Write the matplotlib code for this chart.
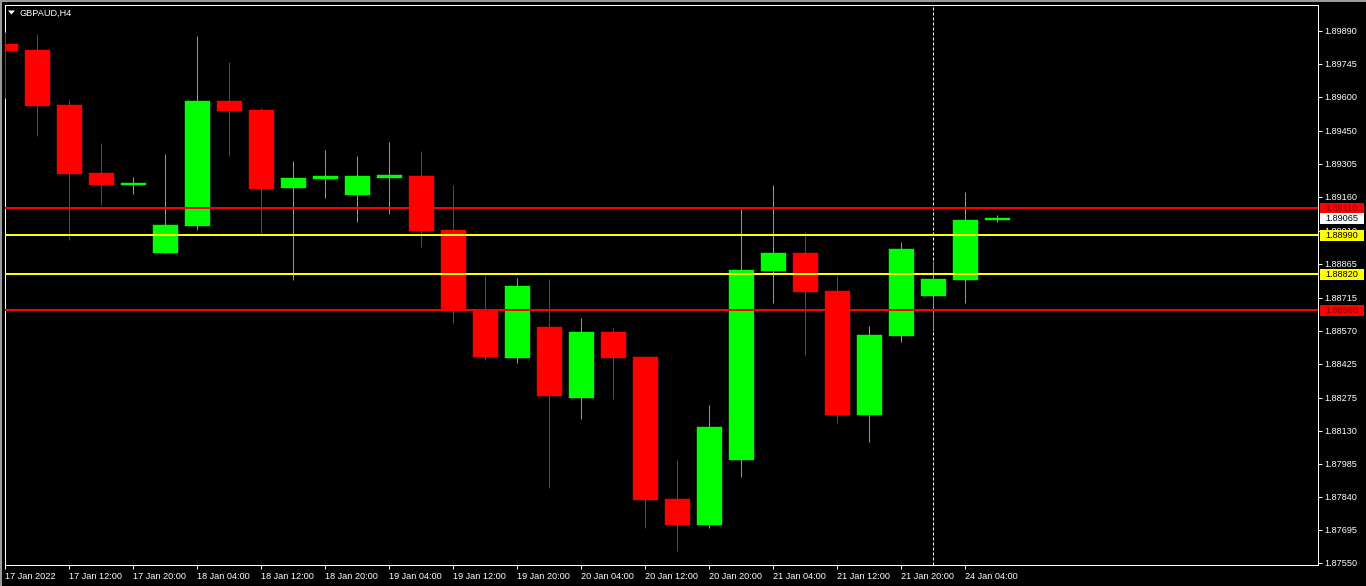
import matplotlib
matplotlib.use("Agg")
import matplotlib.pyplot as plt
from matplotlib.patches import Rectangle, Polygon
from matplotlib.transforms import blended_transform_factory

# ---------------- data ----------------
symbol_title = "GBPAUD,H4"

opens  = [1.89833, 1.89806, 1.89564, 1.89265, 1.89214, 1.88914, 1.89033, 1.89582,
          1.89542, 1.89200, 1.89239, 1.89170, 1.89244, 1.89252, 1.89014, 1.88662,
          1.88452, 1.88587, 1.88276, 1.88565, 1.88455, 1.87830, 1.87717, 1.88003,
          1.88835, 1.88913, 1.88746, 1.88201, 1.88549, 1.88725, 1.88796, 1.89060]
highs  = [1.89886, 1.89877, 1.89586, 1.89397, 1.89247, 1.89349, 1.89868, 1.89754,
          1.89551, 1.89318, 1.89366, 1.89340, 1.89402, 1.89362, 1.89212, 1.88812,
          1.88803, 1.88799, 1.88627, 1.88583, 1.88455, 1.88002, 1.88244, 1.89107,
          1.89212, 1.89005, 1.88812, 1.88592, 1.88961, 1.88878, 1.89181, 1.89080]
lows   = [1.89597, 1.89429, 1.88972, 1.89126, 1.89174, 1.88913, 1.89016, 1.89341,
          1.89002, 1.88796, 1.89156, 1.89051, 1.89086, 1.88941, 1.88606, 1.88443,
          1.88430, 1.87880, 1.88184, 1.88272, 1.87704, 1.87603, 1.87704, 1.87929,
          1.88694, 1.88465, 1.88166, 1.88083, 1.88523, 1.88571, 1.88694, 1.89051]
closes = [1.89802, 1.89561, 1.89262, 1.89214, 1.89221, 1.89036, 1.89582, 1.89539,
          1.89196, 1.89243, 1.89252, 1.89252, 1.89256, 1.89011, 1.88662, 1.88455,
          1.88768, 1.88285, 1.88565, 1.88452, 1.87827, 1.87717, 1.88147, 1.88838,
          1.88913, 1.88743, 1.88201, 1.88552, 1.88931, 1.88799, 1.89058, 1.89065]

x_tick_labels = ["17 Jan 2022", "17 Jan 12:00", "17 Jan 20:00", "18 Jan 04:00",
                 "18 Jan 12:00", "18 Jan 20:00", "19 Jan 04:00", "19 Jan 12:00",
                 "19 Jan 20:00", "20 Jan 04:00", "20 Jan 12:00", "20 Jan 20:00",
                 "21 Jan 04:00", "21 Jan 12:00", "21 Jan 20:00", "24 Jan 04:00"]
x_tick_bars = [0, 2, 4, 6, 8, 10, 12, 14, 16, 18, 20, 22, 24, 26, 28, 30]

y_tick_values = [1.89890, 1.89745, 1.89600, 1.89450, 1.89305, 1.89160, 1.89010,
                 1.88865, 1.88715, 1.88570, 1.88425, 1.88275, 1.88130, 1.87985,
                 1.87840, 1.87695, 1.87550]

red_levels = [1.89110, 1.88660]
yellow_levels = [1.88990, 1.88820]
current_price = 1.89065
week_separator_bar = 29

# ---------------- styling ----------------
W, H = 1366, 586
BG = "#000000"
UP = "#00FF00"
DOWN = "#FF0000"
FONT = ["Liberation Sans", "DejaVu Sans"]
FS = 6.6

plt.rcParams["font.family"] = FONT

fig = plt.figure(figsize=(W / 100, H / 100), dpi=100, facecolor=BG)
ax_l, ax_r, ax_t, ax_b = 5, 1318, 5, 565
ax = fig.add_axes([ax_l / W, 1 - ax_b / H, (ax_r - ax_l) / W, (ax_b - ax_t) / H])
ax.set_facecolor(BG)

y_top, y_bot = 1.900044, 1.875399
ax.set_ylim(y_bot, y_top)
ax.set_xlim(0.0, (ax_r - ax_l) / 32.0)

px = 0.72  # 1 pixel in points
body_w = 25 / 32

for i, (o, h, l, c) in enumerate(zip(opens, highs, lows, closes)):
    col = UP if c >= o else DOWN
    ax.vlines(i, l, h, color=col, linewidth=px, zorder=3)
    bottom = min(o, c)
    height = max(abs(c - o), 0.00004)
    ax.add_patch(Rectangle((i - body_w / 2, bottom), body_w, height,
                           facecolor=col, edgecolor=col, linewidth=0.3, zorder=4))

for lv in red_levels:
    ax.axhline(lv, color="#FF0000", linewidth=2 * px, zorder=5)
for lv in yellow_levels:
    ax.axhline(lv, color="#FFFF00", linewidth=2 * px, zorder=5)

ax.axvline(week_separator_bar, color="white", linewidth=px,
           linestyle=(0, (3, 2)), zorder=2)

# axes frame
for s in ax.spines.values():
    s.set_color("white")
    s.set_linewidth(px)

# y axis on right
ax.yaxis.tick_right()
ax.set_yticks(y_tick_values)
ax.set_yticklabels([f"{v:.5f}" for v in y_tick_values])
ax.tick_params(axis="y", colors="white", length=3, width=px, pad=1.8,
               labelsize=FS, labelcolor="white")
# x axis
ax.set_xticks(x_tick_bars)
ax.set_xticklabels(x_tick_labels)
ax.tick_params(axis="x", colors="white", length=3, width=px, pad=2.0,
               labelsize=FS, labelcolor="white")
for lab in ax.get_xticklabels():
    lab.set_horizontalalignment("left")

# price boxes on the right axis
tr = blended_transform_factory(ax.transAxes, ax.transData)
axw = ax_r - ax_l
unit = (y_top - y_bot) / (ax_b - ax_t)
box_h = 11 * unit
boxes = [(red_levels[0], "#FF0000", "#7a0000"),
         (current_price, "#FFFFFF", "#000000"),
         (yellow_levels[0], "#FFFF00", "#000000"),
         (yellow_levels[1], "#FFFF00", "#000000"),
         (red_levels[1], "#FF0000", "#7a0000")]
for val, fc, tc in boxes:
    ax.add_patch(Rectangle((1 + 2 / axw, val - box_h / 2), 44 / axw, box_h,
                           transform=tr, facecolor=fc, edgecolor="none",
                           clip_on=False, zorder=10))
    ax.text(1 + 7 / axw, val, f"{val:.5f}", transform=tr, color=tc,
            fontsize=FS, va="center", ha="left",
            clip_on=False, zorder=11)

# title with small triangle
fig.text(20 / W, 1 - 13 / H, symbol_title, color="white", fontsize=FS,
         va="center", ha="left")
tri = Polygon([[8 / W, 1 - 10.5 / H], [15 / W, 1 - 10.5 / H], [11.5 / W, 1 - 14.5 / H]],
              closed=True, transform=fig.transFigure, facecolor="white",
              edgecolor="none")
fig.patches.append(tri)

# window border (gray) on top/left
fig.patches.append(Rectangle((0, 1 - 2 / H), 1, 2 / H, transform=fig.transFigure,
                             facecolor="#9a9a9a", edgecolor="none"))
fig.patches.append(Rectangle((0, 0), 2 / W, 1, transform=fig.transFigure,
                             facecolor="#9a9a9a", edgecolor="none"))

fig.savefig("out.png", dpi=100, facecolor=BG)
